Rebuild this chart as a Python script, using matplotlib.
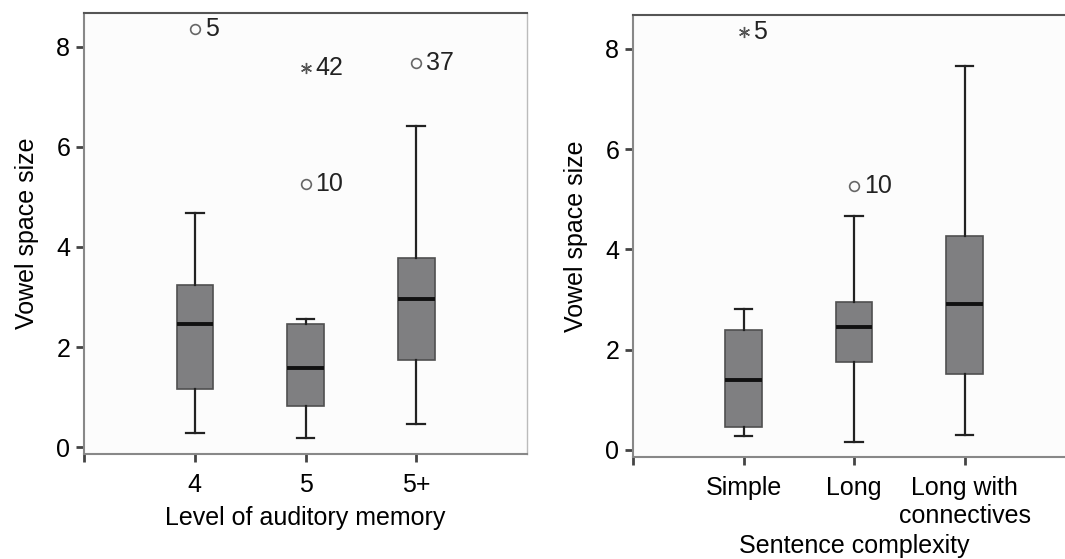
import matplotlib
matplotlib.use('Agg')
import matplotlib.pyplot as plt

plt.rcParams['font.family'] = ['Liberation Sans', 'DejaVu Sans']

# --- data ---
memory_levels = ['4', '5', '5+']
memory_whislo = [0.28, 0.18, 0.46]
memory_q1 = [1.16, 0.82, 1.74]
memory_med = [2.46, 1.58, 2.96]
memory_q3 = [3.24, 2.46, 3.78]
memory_whishi = [4.68, 2.56, 6.42]
# outliers: (group index, value, case id, kind)
memory_out_pos = [0, 1, 1, 2]
memory_out_val = [8.36, 5.26, 7.58, 7.68]
memory_out_id = ['5', '10', '42', '37']
memory_out_kind = ['o', 'o', '*', 'o']

complexity_levels = ['Simple', 'Long', 'Long with\nconnectives']
complexity_whislo = [0.28, 0.16, 0.30]
complexity_q1 = [0.46, 1.76, 1.52]
complexity_med = [1.40, 2.46, 2.92]
complexity_q3 = [2.40, 2.96, 4.26]
complexity_whishi = [2.82, 4.66, 7.66]
complexity_out_pos = [0, 1]
complexity_out_val = [8.34, 5.26]
complexity_out_id = ['5', '10']
complexity_out_kind = ['*', 'o']

FS = 18

fig = plt.figure(figsize=(10.65, 5.59), dpi=100)
ax1 = fig.add_axes([0.0789, 0.1878, 0.416, 0.789])
ax2 = fig.add_axes([0.5944, 0.1825, 0.415, 0.791])


def draw_panel(ax, labels, wlo, q1, med, q3, whi, opos, oval, oid, okind, xlabel, xlabelpad):
    stats = []
    for i in range(len(labels)):
        stats.append(dict(label=labels[i], whislo=wlo[i], q1=q1[i], med=med[i],
                          q3=q3[i], whishi=whi[i], fliers=[]))
    pos = list(range(1, len(labels) + 1))
    ax.bxp(stats, positions=pos, widths=0.33, capwidths=0.16, patch_artist=True,
           showfliers=False,
           boxprops=dict(facecolor='#7f7f81', edgecolor='#505050', lw=1.2),
           medianprops=dict(color='#111111', lw=2.8),
           whiskerprops=dict(color='#222222', lw=1.6),
           capprops=dict(color='#222222', lw=1.6))
    for p, v, t, k in zip(opos, oval, oid, okind):
        x = pos[p]
        if k == 'o':
            ax.plot(x, v, 'o', ms=7, mfc='none', mec='#666666', mew=1.2)
        else:
            ax.plot(x, v, marker=(6, 2, 0), ms=8, color='#555555', mew=1.0)
        ax.text(x + 0.09, v, t, fontsize=FS, va='center', ha='left', color='#222222')

    ax.set_xlim(0, 4)
    ax.set_ylim(-0.14, 8.68)
    ax.set_yticks([0, 2, 4, 6, 8])
    ax.set_xticks(pos)
    ax.set_xticklabels(labels)
    ax.set_xticks([0], minor=True)
    ax.set_facecolor('#fcfcfc')
    ax.tick_params(axis='both', labelsize=FS, length=6, width=2, color='#444444', pad=4)
    ax.tick_params(axis='x', which='minor', length=6, width=2, color='#444444')
    ax.tick_params(axis='x', pad=8)
    ax.set_ylabel('Vowel space size', fontsize=FS, labelpad=12)
    ax.set_xlabel(xlabel, fontsize=FS, labelpad=xlabelpad)
    ax.spines['left'].set_color('#888888')
    ax.spines['left'].set_linewidth(1.5)
    ax.spines['bottom'].set_color('#888888')
    ax.spines['bottom'].set_linewidth(1.5)
    ax.spines['top'].set_color('#555555')
    ax.spines['top'].set_linewidth(1.5)
    ax.spines['right'].set_color('#bbbbbb')
    ax.spines['right'].set_linewidth(1.0)


draw_panel(ax1, memory_levels, memory_whislo, memory_q1, memory_med, memory_q3,
           memory_whishi, memory_out_pos, memory_out_val, memory_out_id,
           memory_out_kind, 'Level of auditory memory', 6)
draw_panel(ax2, complexity_levels, complexity_whislo, complexity_q1, complexity_med,
           complexity_q3, complexity_whishi, complexity_out_pos, complexity_out_val,
           complexity_out_id, complexity_out_kind, 'Sentence complexity', 4)

fig.savefig('out.png', dpi=100)
